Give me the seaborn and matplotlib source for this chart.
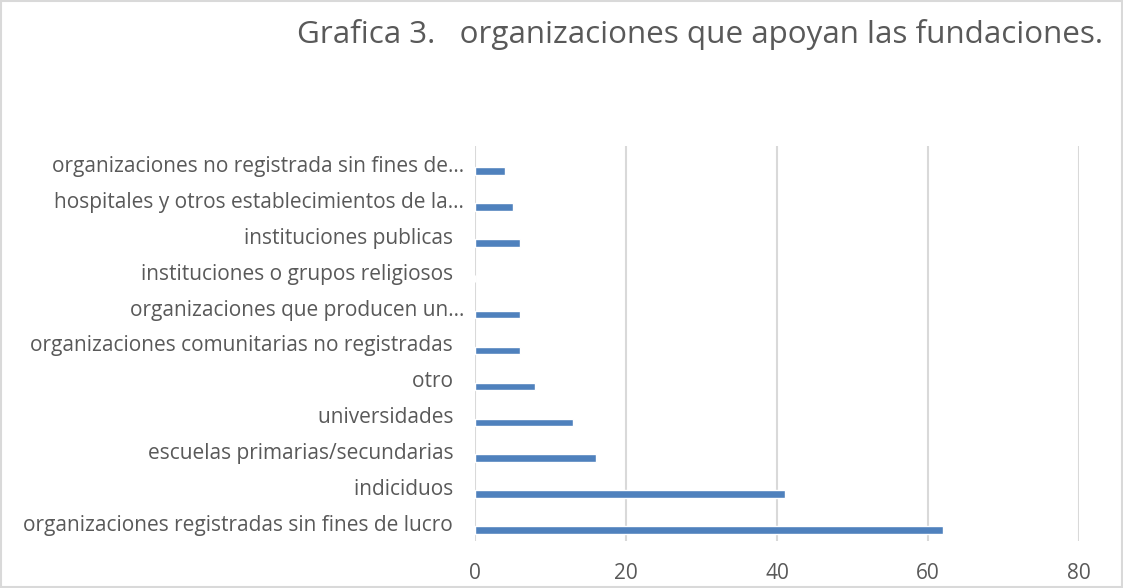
import numpy as np
import matplotlib
matplotlib.use("Agg")
import matplotlib.pyplot as plt
import matplotlib.transforms as mtransforms
from matplotlib.patches import Rectangle
import seaborn as sns
from pandas import DataFrame

# Data (top to bottom)
categories = [
    "organizaciones no registrada sin fines de…",
    "hospitales y otros establecimientos de la…",
    "instituciones publicas  ",
    "instituciones o grupos religiosos  ",
    "organizaciones que producen un…",
    "organizaciones comunitarias no registradas  ",
    "otro  ",
    "universidades  ",
    "escuelas primarias/secundarias  ",
    "indiciduos  ",
    "organizaciones registradas sin fines de lucro  ",
]
values = [4, 5, 6, 0, 6, 6, 8, 13, 16, 41, 62]
xticks = [0, 20, 40, 60, 80]

title = "Grafica 3.   organizaciones que apoyan las fundaciones."

sns.set_style("white")
plt.rcParams['font.family'] = ['Open Sans', 'DejaVu Sans']
text_color = "#595959"
bar_color = "#4F81BD"
grid_color = "#D9D9D9"

df = DataFrame({"categoria": categories, "valor": values})

W, H = 1123, 588
fig = plt.figure(figsize=(W / 100, H / 100), dpi=100)
ax = fig.add_axes([475 / W, 1 - 541 / H, (1079 - 475) / W, (541 - 146) / H])

sns.barplot(data=df, x="valor", y="categoria", orient="h", color=bar_color,
            width=0.21, saturation=1, ax=ax)

ax.set_xlim(xticks[0], xticks[-1])
ax.set_xticks(xticks)
ax.set_ylim(len(categories) - 0.5, -0.5)
ax.grid(axis="x", color=grid_color, linewidth=1.5)
ax.set_axisbelow(True)
sns.despine(ax=ax, left=True, bottom=True)
ax.tick_params(axis="both", length=0, colors=text_color, labelsize=15)
ax.tick_params(axis="x", pad=16)
ax.tick_params(axis="y", pad=8)
ax.set_xlabel("")
ax.set_ylabel("")

# bars sit a little below their labels, as in the original
offset = mtransforms.ScaledTranslation(0, -7 / 100, fig.dpi_scale_trans)
for bar in ax.patches:
    bar.set_transform(ax.transData + offset)

fig.text(1103 / W, 1 - 35 / H, title, ha="right", va="center",
         fontsize=22.6, color=text_color)

# light outer frame
fig.patches.append(Rectangle((0.001, 0.001), 0.998, 0.997, transform=fig.transFigure,
                             fill=False, edgecolor=grid_color, linewidth=1.5))

fig.savefig("out.png", dpi=100)
